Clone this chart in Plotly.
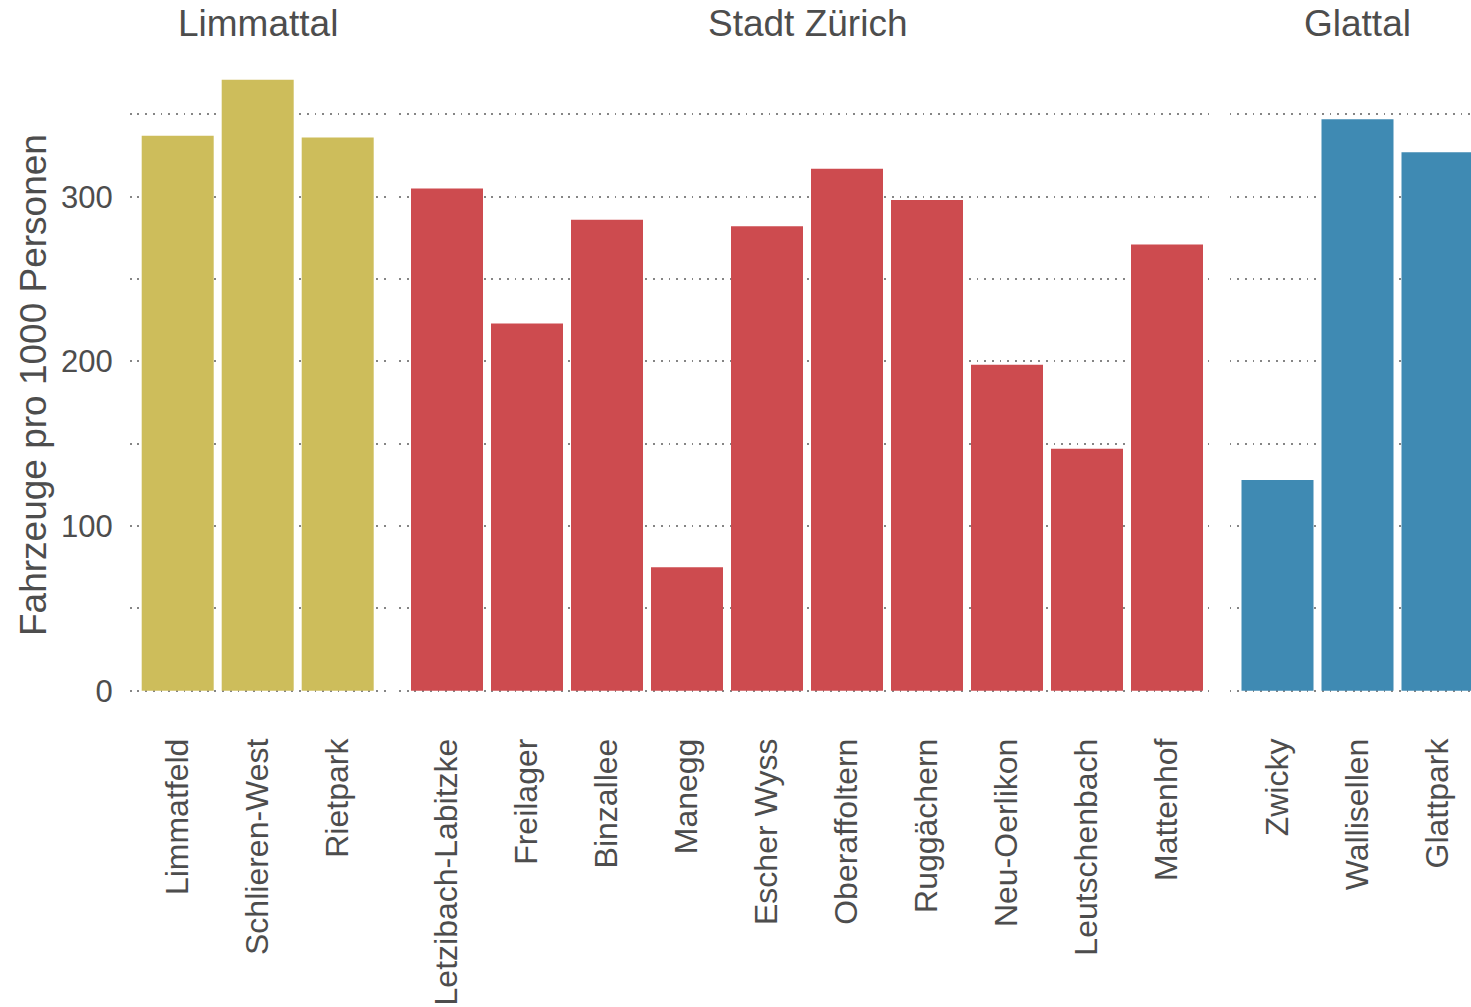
import plotly.graph_objects as go

# Vehicles per 1000 residents, grouped by region
regions = ["Limmattal", "Stadt Zürich", "Glattal"]

limmattal_sites = ["Limmatfeld", "Schlieren-West", "Rietpark"]
limmattal_values = [337, 371, 336]

zuerich_sites = ["Letzibach-Labitzke", "Freilager", "Binzallee", "Manegg", "Escher Wyss",
                 "Oberaffoltern", "Ruggächern", "Neu-Oerlikon", "Leutschenbach", "Mattenhof"]
zuerich_values = [305, 223, 286, 75, 282, 317, 298, 198, 147, 271]

glattal_sites = ["Zwicky", "Wallisellen", "Glattpark"]
glattal_values = [128, 347, 327]

y_ticks = [0, 100, 200, 300]
y_title = "Fahrzeuge pro 1000 Personen"

colors = ["#CDBD5B", "#CD4B4F", "#3F8AB3"]
text_color = "#4d4d4d"
font_family = "Liberation Sans, Arial, sans-serif"

W, H = 1471, 1007

def px_x(v):
    return v / W

def px_y(v):
    return 1 - v / H

groups = [
    (limmattal_sites, limmattal_values),
    (zuerich_sites, zuerich_values),
    (glattal_sites, glattal_values),
]

# panel extents in pixels (left, right) and visible x range
panels = [
    (129.7, 385.7, [-0.6, 2.6]),
    (399.0, 1215.0, [-0.6, 9.6]),
    (1229.5, 1471.0, [-0.6, 2.6 - (1485.5 - 1471.0) / 80.0]),
]

fig = go.Figure()

grid_style = dict(gridcolor="#858585", gridwidth=1.5, griddash="1.8px,5.9px")

for i, ((sites, vals), (left, right, xr)) in enumerate(zip(groups, panels)):
    xa = "x" if i == 0 else f"x{i + 1}"
    fig.add_trace(go.Bar(
        x=sites, y=vals, width=0.9,
        marker=dict(color=colors[i], line=dict(width=0)),
        xaxis=xa, yaxis="y", showlegend=False,
    ))
    axis_name = "xaxis" if i == 0 else f"xaxis{i + 1}"
    fig.layout[axis_name] = dict(
        domain=[px_x(left), px_x(right)],
        range=xr,
        anchor="y",
        type="category",
        categoryorder="array",
        categoryarray=sites,
        tickangle=-90,
        showgrid=False,
        zeroline=False,
        showline=False,
        ticks="",
        ticklabelstandoff=10,
        automargin=False,
        tickfont=dict(family=font_family, size=32, color=text_color),
    )
    fig.add_annotation(
        x=px_x((left + right) / 2) if i < 2 else px_x(1357.5),
        y=px_y(23), xref="paper", yref="paper",
        text=regions[i], showarrow=False,
        xanchor="center", yanchor="middle",
        font=dict(family=font_family, size=37, color=text_color),
    )

y_min, y_max = -18.5, 389.2
fig.update_layout(
    width=W, height=H,
    margin=dict(l=0, r=0, t=0, b=0),
    template="none",
    plot_bgcolor="white",
    paper_bgcolor="white",
    bargap=0.1,
    yaxis=dict(
        domain=[px_y(721.2), px_y(49.8)],
        range=[y_min, y_max],
        anchor="x",
        tickvals=y_ticks,
        ticktext=[str(v) for v in y_ticks],
        showgrid=True,
        zeroline=False,
        showline=False,
        ticks="",
        ticklabelstandoff=16,
        automargin=False,
        tickfont=dict(family=font_family, size=31, color=text_color),
        minor=dict(dtick=50, tick0=0, showgrid=True, **grid_style),
        **grid_style,
    ),
)

fig.add_annotation(
    x=px_x(33), y=px_y(385), xref="paper", yref="paper",
    text=y_title, showarrow=False, textangle=-90,
    xanchor="center", yanchor="middle",
    font=dict(family=font_family, size=37, color=text_color),
)

fig.write_html("out.html")
